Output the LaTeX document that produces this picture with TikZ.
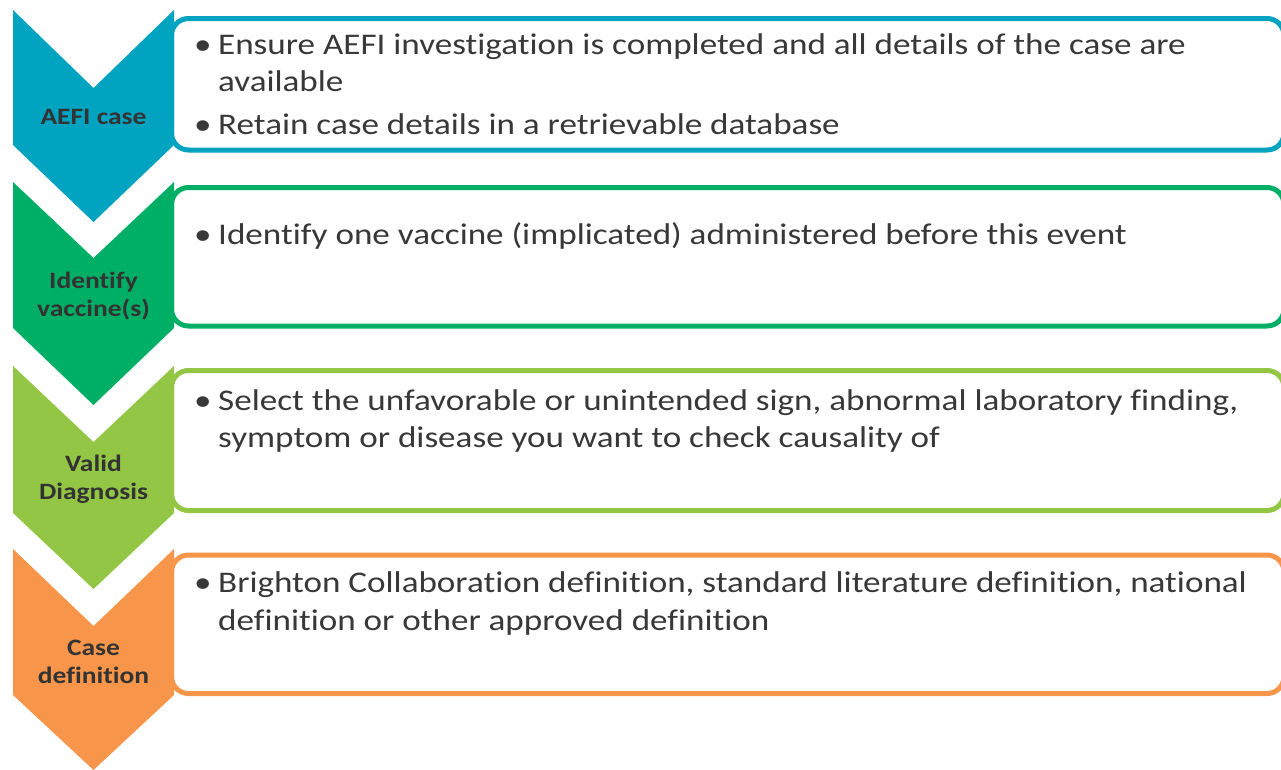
\documentclass[tikz,border=0pt]{standalone}
\usepackage{fontspec}
\setmainfont[FakeStretch=1.17, Ligatures=NoCommon]{Carlito}
\definecolor{cteal}{RGB}{0,163,192}
\definecolor{cgreen}{RGB}{0,175,102}
\definecolor{clime}{RGB}{146,198,68}
\definecolor{corange}{RGB}{247,150,74}
\definecolor{ctext}{RGB}{56,56,56}
\definecolor{clabel}{RGB}{51,51,51}
\tikzset{
  infobox/.style={line width=5pt, fill=white, rounded corners=17pt},
  lbl/.style={font=\fontsize{23.5}{28.4}\selectfont\bfseries, text=clabel, align=center, inner sep=0pt, anchor=base},
  txt/.style={font=\fontsize{30}{36.6}\selectfont, text=ctext, inner sep=0pt, anchor=base west},
}
\newcommand\bul{\makebox[24pt][l]{•}}
\begin{document}
\begin{tikzpicture}[x=1pt,y=-1pt]
\useasboundingbox (0,0) rectangle (1281,769);
\begin{scope}
\clip (0,0) rectangle (1281,769);
% boxes
\draw[infobox, draw=cteal]   (171.5,18.5) -- (1284,18.5) -- (1284,150) -- (171.5,150) -- cycle;
\draw[infobox, draw=cgreen]  (171.5,187.5) -- (1284,187.5) -- (1284,326) -- (171.5,326) -- cycle;
\draw[infobox, draw=clime]   (171.5,370.5) -- (1284,370.5) -- (1284,510.5) -- (171.5,510.5) -- cycle;
\draw[infobox, draw=corange] (171.5,555) -- (1284,555) -- (1284,693.5) -- (171.5,693.5) -- cycle;
% chevrons
\fill[cteal]   (13,10) -- (93.5,88) -- (174,10) -- (174,145) -- (93.5,222) -- (13,145) -- cycle;
\fill[cgreen]  (13,182) -- (93.5,258) -- (174,182) -- (174,328) -- (93.5,405) -- (13,328) -- cycle;
\fill[clime]   (13,366) -- (93.5,442) -- (174,366) -- (174,513) -- (93.5,589) -- (13,513) -- cycle;
\fill[corange] (13,549) -- (93.5,626) -- (174,549) -- (174,695) -- (93.5,770) -- (13,695) -- cycle;
\end{scope}
% chevron labels
\node[lbl] (l1) at (93.5,124.3) {AEFI case};
\node[lbl] (l2a) at (93.5,288.3) {Identify};
\node[lbl] (l2b) at (93.5,316.7) {vaccine(s)};
\node[lbl] (l3a) at (93.5,471) {Valid};
\node[lbl] (l3b) at (93.5,499.3) {Diagnosis};
\node[lbl] (l4a) at (93.5,655) {Case};
\node[lbl] (l4b) at (93.5,683) {definition};
% box texts
\node[txt] (t1a) at (194,54.3) {\bul Ensure AEFI investigation is completed and all details of the case are};
\node[txt] (t1b) at (218,91.7) {available};
\node[txt] (t1c) at (194,134.5) {\bul Retain case details in a retrievable database};
\node[txt] (t2a) at (194,244.5) {\bul Identify one vaccine (implicated) administered before this event};
\node[txt] (t3a) at (194,410.7) {\bul Select the unfavorable or unintended sign, abnormal laboratory finding,};
\node[txt] (t3b) at (218,447) {symptom or disease you want to check causality of};
\node[txt] (t4a) at (194,592.7) {\bul Brighton Collaboration definition, standard literature definition, national};
\node[txt] (t4b) at (218,630) {definition or other approved definition};
\end{tikzpicture}
\end{document}
